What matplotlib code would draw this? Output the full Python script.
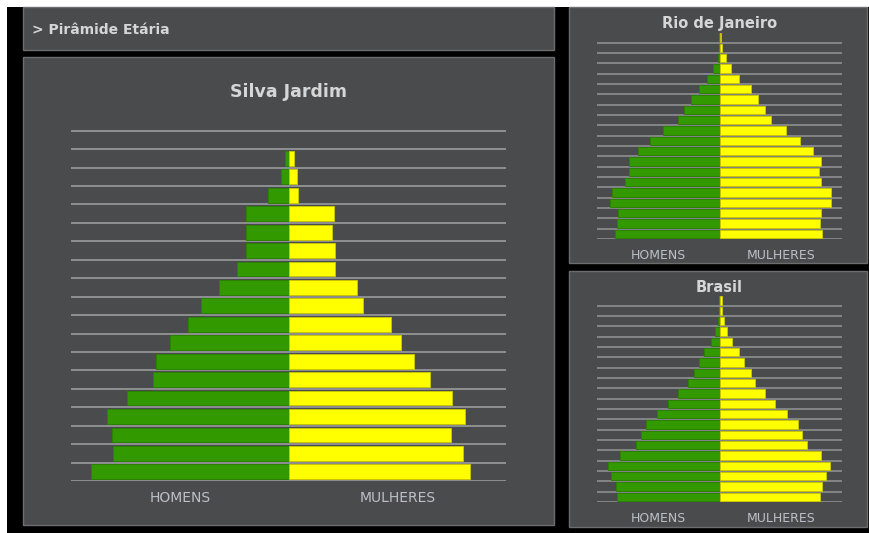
"""
Pirâmide etária: Silva Jardim, Rio de Janeiro e Brasil
"""

import matplotlib.pyplot as plt
import numpy as np
from matplotlib.patches import Rectangle

# age groups, bottom to top (labels are not drawn on the chart)
age_groups = ["0-4", "5-9", "10-14", "15-19", "20-24", "25-29", "30-34",
              "35-39", "40-44", "45-49", "50-54", "55-59", "60-64", "65-69",
              "70-74", "75-79", "80-84", "85-89", "90-94", "95+"]

# share of total population (%), bottom to top
silva_homens = [5.72, 5.09, 5.11, 5.25, 4.67, 3.92, 3.82, 3.44, 2.92, 2.53,
                2.02, 1.50, 1.23, 1.22, 1.22, 0.58, 0.22, 0.09, 0.0, 0.0]
silva_mulheres = [5.24, 5.04, 4.71, 5.11, 4.74, 4.09, 3.64, 3.26, 2.96, 2.15,
                  1.99, 1.34, 1.34, 1.27, 1.31, 0.27, 0.26, 0.16, 0.0, 0.0]

rio_homens = [4.30, 4.19, 4.18, 4.51, 4.41, 3.89, 3.73, 3.73, 3.33, 2.85,
              2.30, 1.71, 1.44, 1.15, 0.86, 0.51, 0.26, 0.08, 0.03, 0.02]
rio_mulheres = [4.19, 4.12, 4.15, 4.57, 4.57, 4.18, 4.07, 4.18, 3.85, 3.32,
                2.71, 2.11, 1.85, 1.57, 1.29, 0.81, 0.49, 0.26, 0.12, 0.08]

brasil_homens = [4.85, 4.90, 5.14, 5.29, 4.71, 3.99, 3.73, 3.47, 2.99, 2.45,
                 1.97, 1.48, 1.21, 0.97, 0.72, 0.41, 0.21, 0.08, 0.01, 0.01]
brasil_mulheres = [4.78, 4.85, 5.06, 5.26, 4.80, 4.18, 3.94, 3.72, 3.21, 2.66,
                   2.18, 1.70, 1.48, 1.18, 0.91, 0.59, 0.38, 0.22, 0.11, 0.10]

sex_labels = ["HOMENS", "MULHERES"]

W, H = 869, 533
PANEL = "#4a4b4d"
PANEL_EDGE = "#6c6d70"
GRID = "#8e8f91"
GREEN = "#339900"
YELLOW = "#ffff00"
TEXT = "#d6d6d6"
LABEL = "#bcc0c8"


def box(x0, y0, x1, y1):
    """Pixel box (from top-left) to figure fraction [left, bottom, w, h]."""
    return [x0 / W, 1 - y1 / H, (x1 - x0) / W, (y1 - y0) / H]


def panel(fig, x0, y0, x1, y1):
    fig.add_artist(Rectangle(box(x0, y0, x1, y1)[:2], (x1 - x0) / W,
                             (y1 - y0) / H, transform=fig.transFigure,
                             facecolor=PANEL, edgecolor=PANEL_EDGE, lw=1.0,
                             zorder=0))


def draw_pyramid(ax, homens, mulheres, label_size, grid_lw):
    homens = np.asarray(homens)
    mulheres = np.asarray(mulheres)
    y = np.arange(len(age_groups))
    lim = 1.1 * max(homens.max(), mulheres.max())

    for yy in y:
        ax.axhline(yy - 0.5, color=GRID, lw=grid_lw, zorder=1)

    # no outline on empty groups, otherwise they show up as thin lines
    ax.barh(y, -homens, height=0.8, color=GREEN, edgecolor="#2b8000",
            lw=np.where(homens > 0.05, 0.7, 0), zorder=2)
    ax.barh(y, mulheres, height=0.8, color=YELLOW, edgecolor="#c8c400",
            lw=np.where(mulheres > 0.05, 0.7, 0), zorder=2)

    ax.set_xlim(-lim, lim)
    ax.set_ylim(-0.5, len(y) - 0.5)
    ax.set_facecolor("none")
    for s in ax.spines.values():
        s.set_visible(False)
    ax.set_yticks([])
    ax.set_xticks([-lim / 2, lim / 2])
    ax.set_xticklabels(sex_labels)
    ax.tick_params(axis="x", length=0, pad=7, labelsize=label_size,
                   labelcolor=LABEL)


fig = plt.figure(figsize=(W / 100, H / 100), dpi=100, facecolor="white")
fig.add_artist(Rectangle((7 / W, 0), 1, 1 - 7 / H, transform=fig.transFigure,
                         facecolor="black", edgecolor="none", zorder=-1))

# panels
panel(fig, 22.5, 7.5, 554, 50)
panel(fig, 22.5, 57, 554, 525)
panel(fig, 569, 7.5, 866.5, 263)
panel(fig, 569, 270.5, 866.5, 526.5)

fig.text(32 / W, 1 - 34 / H, "> Pirâmide Etária", color=TEXT,
         fontsize=10, fontweight="bold", va="baseline", ha="left")

# Silva Jardim
ax = fig.add_axes(box(71, 112.3, 506, 481))
draw_pyramid(ax, silva_homens, silva_mulheres, 10, 1.4)
fig.text(288.5 / W, 1 - 97 / H, "Silva Jardim", color=TEXT, fontsize=12.5,
         fontweight="bold", ha="center", va="baseline")

# Rio de Janeiro
ax = fig.add_axes(box(597, 32.4, 842, 239))
draw_pyramid(ax, rio_homens, rio_mulheres, 9, 1.2)
fig.text(719.5 / W, 1 - 28 / H, "Rio de Janeiro", color=TEXT, fontsize=10.5,
         fontweight="bold", ha="center", va="baseline")

# Brasil
ax = fig.add_axes(box(597, 295.4, 842, 502))
draw_pyramid(ax, brasil_homens, brasil_mulheres, 9, 1.2)
fig.text(719.5 / W, 1 - 292 / H, "Brasil", color=TEXT, fontsize=10.5,
         fontweight="bold", ha="center", va="baseline")

fig.savefig("out.png", dpi=100, facecolor=fig.get_facecolor())
